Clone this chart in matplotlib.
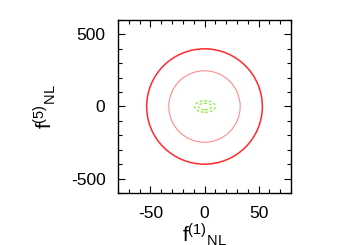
import matplotlib
matplotlib.use('Agg')
import matplotlib.pyplot as plt
from matplotlib.patches import Ellipse
from matplotlib.ticker import MultipleLocator

# confidence contours (centre, semi-axes)
x_centre = [0, 0, 0.5, 0.5]
y_centre = [0, 0, 0, 0]
x_semi = [53.5, 33, 9.5, 6.2]
y_semi = [400, 248, 40, 22]
colours = ['#ff2a2a', '#ff8c8c', '#8de840', '#8de840']
widths = [1.1, 0.8, 0.9, 0.9]
styles = ['-', '-', (0, (2.2, 1.6)), (0, (2.2, 1.6))]

x_ticks = [-50, 0, 50]
y_ticks = [-500, 0, 500]

plt.rcParams['font.family'] = ['Liberation Sans', 'DejaVu Sans']
plt.rcParams['mathtext.fontset'] = 'custom'
plt.rcParams['mathtext.rm'] = 'Liberation Sans'
plt.rcParams['mathtext.it'] = 'Liberation Sans'
plt.rcParams['axes.unicode_minus'] = False

fig = plt.figure(figsize=(3.5, 2.45), dpi=100)
ax = fig.add_axes([118/350, 52/245, 173/350, 173/245])

for i in range(len(x_semi)):
    ax.add_patch(Ellipse((x_centre[i], y_centre[i]), 2*x_semi[i], 2*y_semi[i],
                         fill=False, edgecolor=colours[i], lw=widths[i],
                         ls=styles[i]))

ax.set_xlim(-80, 80)
ax.set_ylim(-600, 600)
ax.set_xticks(x_ticks)
ax.set_yticks(y_ticks)
ax.xaxis.set_minor_locator(MultipleLocator(10))
ax.yaxis.set_minor_locator(MultipleLocator(100))
ax.tick_params(which='both', direction='in', top=True, right=True, width=0.8,
               labelsize=12.5, pad=9)
ax.tick_params(which='major', length=5)
ax.tick_params(which='minor', length=3)
for s in ax.spines.values():
    s.set_linewidth(1.0)

ax.set_xlabel(r'$\mathrm{f^{(1)}{}_{NL}}$', fontsize=15, labelpad=1)
ax.set_ylabel(r'$\mathrm{f^{(5)}{}_{NL}}$', fontsize=15, labelpad=9)

fig.savefig('out.png', dpi=100)
